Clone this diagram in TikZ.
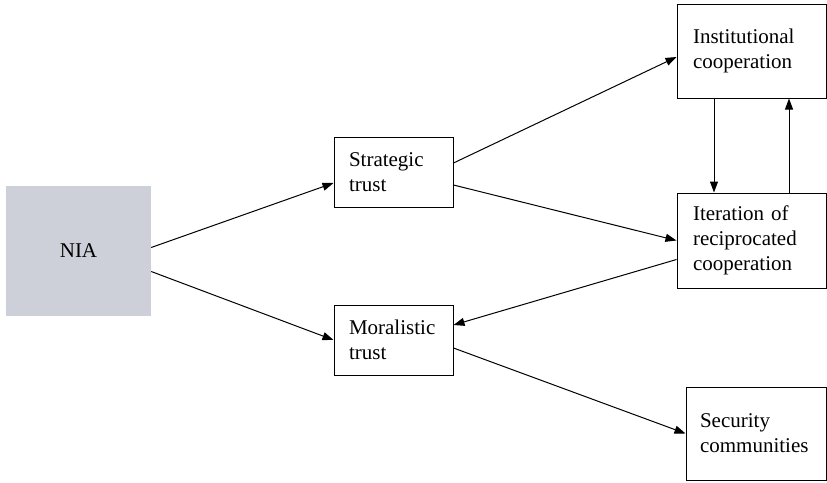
\documentclass[tikz,border=0pt]{standalone}
\usepackage{fontspec}
\setmainfont{Liberation Serif}[Ligatures=TeX]
\usepackage{tikz}
\usetikzlibrary{calc}
\usetikzlibrary{arrows.meta}
\usetikzlibrary{positioning}
\definecolor{niagray}{RGB}{205, 208, 216}

\begin{document}
\begin{tikzpicture}[x=1pt, y=-1pt,
        box/.style={draw, line width=1pt, align=left, inner xsep=15pt,
                    font=\rmfamily\fontsize{21}{25}\selectfont},
        link/.style={line width=1pt, -{Triangle[length=11pt, width=8pt]}}]
            % Frame to ensure alignment:
            \useasboundingbox                                                 (0, 0) rectangle (827, 482);
            % Source
            \node[fill=niagray, minimum width=145pt, minimum height=130pt,
                  font=\rmfamily\fontsize{21}{25}\selectfont]         (nia)  at ( 78.5, 250.5) {NIA};
            % Trust
            \node[box, text width=89pt,  minimum height=70pt]         (strat) at (393.5, 172.0) {Strategic\\trust};
            \node[box, text width=89pt,  minimum height=70pt]         (moral) at (393.5, 340.0) {Moralistic\\trust};
            % Outcomes
            \node[box, text width=117pt, minimum height=94pt,
                  inner xsep=16pt]                                    (inst)  at (751.5,  51.0) {Institutional\\cooperation};
            \node[box, text width=117pt, minimum height=95pt,
                  inner xsep=16pt]                                    (iter)  at (751.5, 240.5) {Iteration of\\reciprocated\\cooperation};
            \node[box, text width=112pt, minimum height=93pt,
                  inner xsep=14pt]                                    (sec)   at (756.0, 433.5) {Security\\communities};
            % Links
            \draw[link] ([yshift=  3pt]nia.east)   -- ([yshift=-11pt]strat.west);
            \draw[link] ([yshift=-21pt]nia.east)   -- (moral.west);
            \draw[link] ([yshift=  9pt]strat.east) -- ([yshift= -6pt]inst.west);
            \draw[link] ([yshift=-13pt]strat.east) -- (iter.west);
            \draw[link] ([yshift=-19pt]iter.west)  -- ([yshift= 15pt]moral.east);
            \draw[link] ([yshift= -8pt]moral.east) -- (sec.west);
            % Feedback loop
            \draw[link] ([xshift=-37.5pt]inst.south) -- ([xshift=-37.5pt]iter.north);
            \draw[link] ([xshift= 37.5pt]iter.north) -- ([xshift= 37.5pt]inst.south);
\end{tikzpicture}
\end{document}
